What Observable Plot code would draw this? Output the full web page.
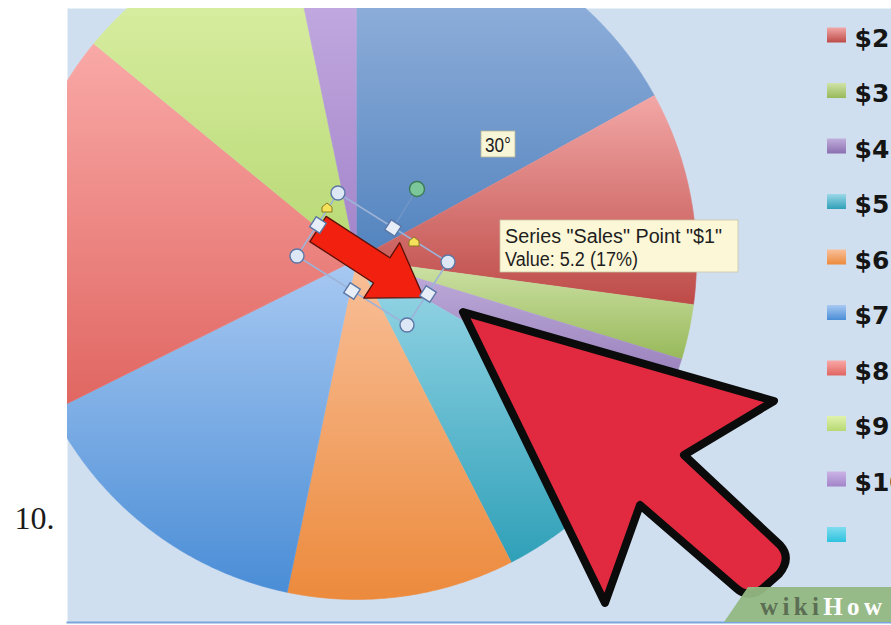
<!DOCTYPE html>
<html><head><meta charset="utf-8">
<script src="https://cdn.jsdelivr.net/npm/d3@7"></script>
<script src="https://cdn.jsdelivr.net/npm/@observablehq/plot@0.6"></script>
<style>
html,body{margin:0;padding:0;background:#fff;overflow:hidden;}
#chart{width:891px;height:625px;}
</style></head>
<body><div id="chart"></div>
<script>
// ---- data ----
const categories = ["$1","$2","$3","$4","$5","$6","$7","$8","$9","$10",""];
const sales      = [5.2, 3.1, 0.8, 1.1, 2.8, 3.3, 4.4, 5.6, 3.3, 1.0, 0];
const seriesName = "Sales";
const stepLabel  = "10.";
// ---- styles ----
const topColors    = ["#a0bbe2","#f2a7a6","#cfe3a8","#c0aedb","#9bd8e8","#f9c09a","#a8c9f2","#f9a9a7","#e0f3ad","#cbb4e6","#7fdcef"];
const bottomColors = ["#5283be","#bd4b48","#98b95a","#8a6fb0","#2fa0b8","#ec8a3c","#4a8dd6","#e06560","#b7d873","#a283c9","#2ec3de"];

// ---- layout ----
const W = 891, H = 625, mL = 67, mT = 8, mB = 3;
const cx = 356, cy = 259, R = 340;
const ux = px => (px - cx) / R;
const vy = py => (cy - py) / R;
const gradIds = categories.map((_, i) => `url(#pg${i})`);

// pie geometry from the values
const arcs = d3.pie().sort(null).value(d => d).startAngle(0).endAngle(2 * Math.PI)(sales);
const pieRows = [];
arcs.forEach((a, i) => {
  const span = a.endAngle - a.startAngle;
  if (span <= 0) return;
  const cat = categories[i];
  pieRows.push({cat, x: 0, y: 0});
  const n = Math.max(2, Math.ceil(span / (Math.PI / 360)));
  for (let k = 0; k <= n; k++) {
    const t = a.startAngle + span * k / n;
    pieRows.push({cat, x: Math.sin(t), y: Math.cos(t)});
  }
});

// legend rows (entry $1 sits above the visible area and is not drawn)
const legTop = 35, legStep = 55.5;
const legendRows = categories.map((cat, i) => {
  const yc = legTop + (i - 1) * legStep;
  return {cat, yc, x1: ux(827), x2: ux(846), y1: vy(yc - 7.5), y2: vy(yc + 7.5), tx: ux(854), ty: vy(yc + 3)};
}).filter(d => d.yc > 0);

const total = d3.sum(sales);
const tipLines = [
  `Series "${seriesName}" Point "${categories[0]}"`,
  `Value: ${sales[0]} (${Math.round(sales[0] / total * 100)}%)`
];

const plot = Plot.plot({
  width: W, height: H,
  marginLeft: mL, marginRight: 0, marginTop: mT, marginBottom: mB,
  x: {domain: [ux(mL), ux(W)], axis: null},
  y: {domain: [vy(H - mB), vy(mT)], axis: null},
  color: {type: "ordinal", domain: categories, range: gradIds},
  style: {background: "#ffffff", overflow: "hidden"},
  marks: [
    Plot.frame({fill: "#d0dff0", stroke: "none"}),
    Plot.line(pieRows, {x: "x", y: "y", z: "cat", fill: "cat", stroke: "cat", strokeWidth: 0.6, curve: "linear", clip: true}),
    Plot.frame({anchor: "bottom", stroke: "#7ba3dc", strokeWidth: 2}),
    Plot.rect(legendRows, {x1: "x1", x2: "x2", y1: "y1", y2: "y2", fill: "cat"}),
    Plot.text(legendRows, {x: "tx", y: "ty", text: "cat", textAnchor: "start", fontSize: 25, fontWeight: "bold",
      fontFamily: "DejaVu Sans, sans-serif", fill: "#151515"}),
    Plot.text([stepLabel], {x: ux(14), y: vy(518), text: d => d, textAnchor: "start", fontSize: 32,
      fontFamily: "Liberation Serif, serif", fill: "#1a1a1a"})
  ]
});

const svg = d3.select(plot);
const defs = svg.insert("defs", ":first-child");
categories.forEach((_, i) => {
  const g = defs.append("linearGradient").attr("id", `pg${i}`).attr("x1", 0).attr("y1", 0).attr("x2", 0).attr("y2", 1);
  g.append("stop").attr("offset", "0%").attr("stop-color", topColors[i]);
  g.append("stop").attr("offset", "100%").attr("stop-color", bottomColors[i]);
});

// ---- annotation overlay (selected shape, tooltip, cursor, badge) ----
const deco = svg.append("g").attr("text-anchor", "start");
const corners = [[338,193],[448,262],[407,325],[297,256]];
deco.append("polygon").attr("points", corners.map(p => p.join(",")).join(" "))
  .attr("fill", "none").attr("stroke", "#9db3d8").attr("stroke-width", 1.6);
deco.append("line").attr("x1", 393).attr("y1", 228).attr("x2", 417).attr("y2", 189)
  .attr("stroke", "#6f95c8").attr("stroke-width", 1.6);
deco.append("path").attr("transform", "translate(318,229) rotate(33)")
  .attr("d", "M0,-15 L76,-15 L76,-33 L126,0 L76,33 L76,15 L0,15 Z")
  .attr("fill", "#f2200e").attr("stroke", "#5a1008").attr("stroke-width", 1.3).attr("stroke-linejoin", "round");
corners.forEach(([x, y]) => deco.append("circle").attr("cx", x).attr("cy", y).attr("r", 7)
  .attr("fill", "#dde7f5").attr("stroke", "#5b77a6").attr("stroke-width", 1.4));
[[393,228],[428,294],[352,291],[318,225]].forEach(([x, y]) => deco.append("rect")
  .attr("x", -6).attr("y", -6).attr("width", 12).attr("height", 12)
  .attr("transform", `translate(${x},${y}) rotate(33)`)
  .attr("fill", "#e8eef8").attr("stroke", "#5b77a6").attr("stroke-width", 1.4));
deco.append("circle").attr("cx", 417).attr("cy", 189).attr("r", 7.5)
  .attr("fill", "#7cc79a").attr("stroke", "#3d7a58").attr("stroke-width", 1.4);
[[327,209],[414,243]].forEach(([x, y]) => deco.append("path")
  .attr("transform", `translate(${x},${y})`).attr("d", "M-5,3 L-5,-2 L0,-6 L5,-2 L5,3 Z")
  .attr("fill", "#f5e25a").attr("stroke", "#8a7a20").attr("stroke-width", 1));
// "30°" label
deco.append("rect").attr("x", 481).attr("y", 131).attr("width", 34).attr("height", 26)
  .attr("fill", "#f8f6d8").attr("stroke", "#b9b79a").attr("stroke-width", 0.8);
deco.append("text").attr("x", 485).attr("y", 152).attr("text-anchor", "start").text("30°")
  .attr("font-family", "Liberation Sans, sans-serif").attr("font-size", 20).attr("fill", "#1e1e1e")
  .attr("textLength", 26).attr("lengthAdjust", "spacingAndGlyphs");
// tooltip
deco.append("rect").attr("x", 500).attr("y", 220).attr("width", 238).attr("height", 52)
  .attr("fill", "#fcf7d7").attr("stroke", "#c9c2a2").attr("stroke-width", 0.8);
tipLines.forEach((t, i) => deco.append("text").attr("x", 505).attr("y", 243 + i * 23)
  .attr("text-anchor", "start").text(t)
  .attr("font-family", "Liberation Sans, sans-serif").attr("font-size", 20).attr("fill", "#1e1e1e")
  .attr("textLength", i === 0 ? 217 : 133).attr("lengthAdjust", "spacingAndGlyphs"));
// big cursor
deco.append("path")
  .attr("d", "M463,312 L774,401 L684,455 L780,545 Q792,558 779,574 L762,589 Q748,599 736,588 L640,505 L605,603 Z")
  .attr("fill", "#e12a40").attr("stroke", "#0b0b0b").attr("stroke-width", 8).attr("stroke-linejoin", "round");
// wikiHow badge
deco.append("polygon").attr("points", "724,622 748,587 891,587 891,622")
  .attr("fill", "#93b882").attr("opacity", 0.95);
const bt = deco.append("text").attr("x", 760).attr("y", 615).attr("text-anchor", "start")
  .attr("font-family", "Liberation Serif, serif").attr("font-size", 25).attr("font-weight", "bold")
  .attr("textLength", 122).attr("lengthAdjust", "spacing");
bt.append("tspan").attr("fill", "#5c6f55").text("wiki");
bt.append("tspan").attr("fill", "#ffffff").text("How");

document.getElementById("chart").appendChild(plot);
</script>
</body></html>
